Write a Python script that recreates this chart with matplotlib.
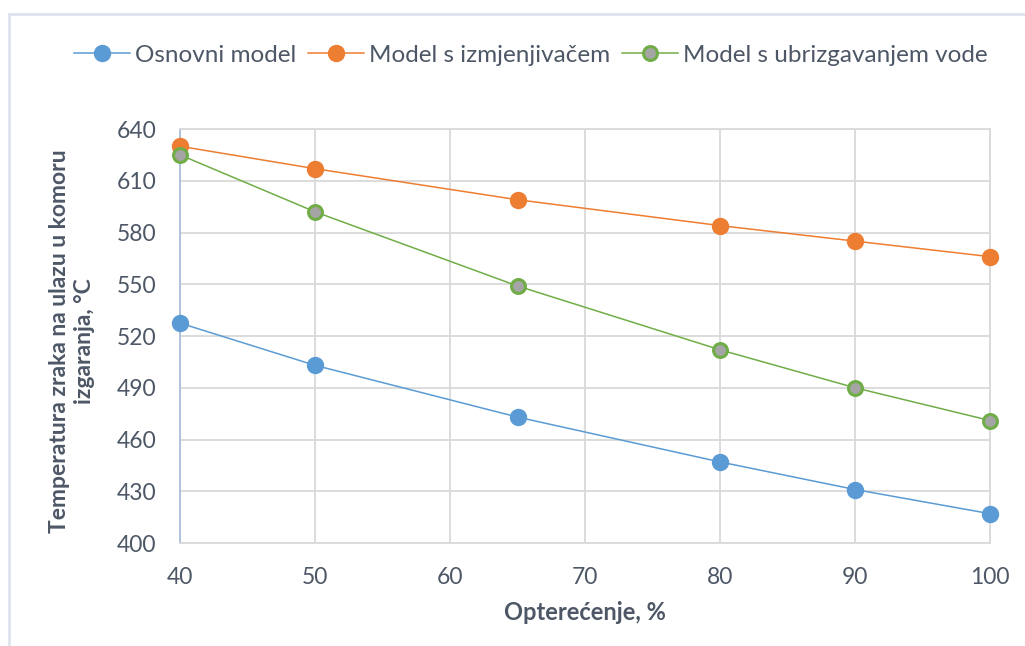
import matplotlib
matplotlib.use("Agg")
import matplotlib.pyplot as plt
from matplotlib.lines import Line2D

load = [40, 50, 65, 80, 90, 100]
osnovni = [527.5, 503, 473, 447, 431, 417]
izmjenjivac = [630, 617, 599, 584, 575, 566]
ubrizgavanje = [625, 592, 549, 512, 490, 471]
series_names = ["Osnovni model", "Model s izmjenjivačem", "Model s ubrizgavanjem vode"]
x_ticks = [40, 50, 60, 70, 80, 90, 100]
y_ticks = [400, 430, 460, 490, 520, 550, 580, 610, 640]

plt.rcParams['font.family'] = ['Lato', 'DejaVu Sans']
txt = '#4d5766'

fig = plt.figure(figsize=(10.25, 6.46), dpi=100)
ax = fig.add_axes([180/1025, 1-543/646, 810/1025, 414/646])

ms = 11.5
ax.plot(load, osnovni, color='#5B9BD5', lw=1.1, marker='o', ms=ms, clip_on=False,
        markerfacecolor='#5B9BD5', markeredgecolor='#5B9BD5', label=series_names[0], zorder=3)
ax.plot(load, izmjenjivac, color='#ED7D31', lw=1.1, marker='o', ms=ms, clip_on=False,
        markerfacecolor='#ED7D31', markeredgecolor='#ED7D31', label=series_names[1], zorder=3)
ax.plot(load, ubrizgavanje, color='#70AD47', lw=1.1, marker='o', ms=ms - 1.5, clip_on=False,
        markerfacecolor='#A5A5A5', markeredgecolor='#70AD47', markeredgewidth=2.2,
        label=series_names[2], zorder=3)

ax.set_xlim(40, 100)
ax.set_ylim(400, 640)
ax.set_xticks(x_ticks)
ax.set_yticks(y_ticks)
ax.grid(True, color='#D9D9D9', lw=1.3)
ax.set_axisbelow(True)
for s in ['top', 'right', 'bottom']:
    ax.spines[s].set_color('#D9D9D9')
    ax.spines[s].set_linewidth(1.3)
ax.spines['left'].set_color('#A9BFDB')
ax.spines['left'].set_linewidth(1.3)
ax.tick_params(length=0, labelsize=16.5, colors=txt, pad=17)

fig.text(585/1025, 1-612/646, "Opterećenje, %", fontsize=17, fontweight='bold',
         color=txt, ha='center', va='center')
fig.text(72/1025, 1-341/646, "Temperatura zraka na ulazu u komoru\nizgaranja, °C", fontsize=16.5,
         fontweight='bold', color=txt, ha='center', va='center', rotation=90,
         linespacing=1.2, multialignment='center')

leg = fig.legend(loc='center', bbox_to_anchor=(531/1025, 1-55/646), ncol=3, frameon=False,
                 fontsize=17.5, handlelength=2.3, columnspacing=0.5, handletextpad=0.2,
                 labelcolor=txt)

# chart border (Excel-like)
fig.add_artist(Line2D([9/1025, 9/1025], [0, 1-14/646], color='#DCE3EC', lw=2.0))
fig.add_artist(Line2D([9/1025, 1], [1-14/646, 1-14/646], color='#DCE3EC', lw=2.0))

fig.savefig("out.png", dpi=100, facecolor='white')
